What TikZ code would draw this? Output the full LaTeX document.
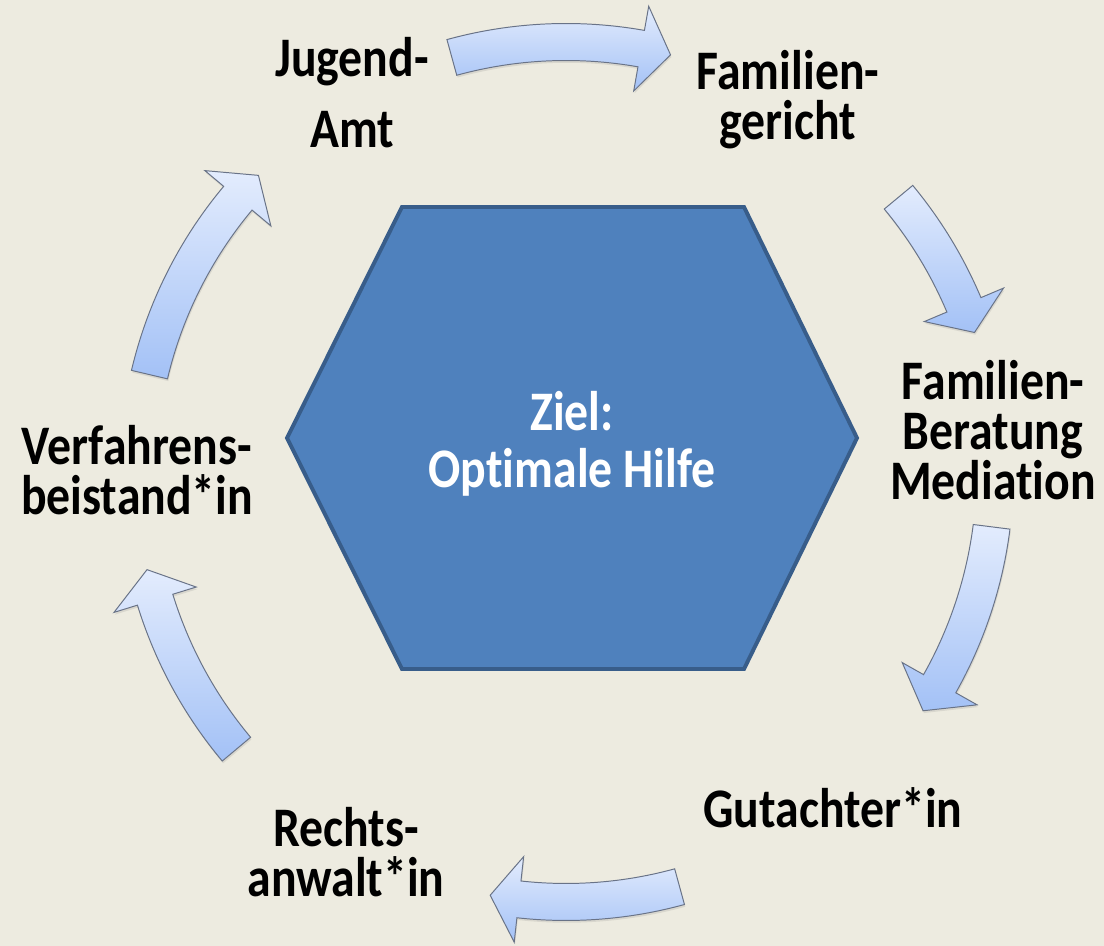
\documentclass[tikz,border=0pt]{standalone}
\usepackage{fontspec}
\setmainfont{Carlito}[FakeStretch=0.855, Ligatures=NoCommon]
\usetikzlibrary{shadows}
\definecolor{bgcol}{RGB}{237,235,224}
\definecolor{hexfill}{RGB}{79,129,189}
\definecolor{hexline}{RGB}{56,93,138}
\definecolor{arrtop}{RGB}{227,236,253}
\definecolor{arrbot}{RGB}{163,193,246}
\definecolor{arrline}{RGB}{105,115,135}
\tikzset{
  cyclearrow/.style={draw=arrline, line width=0.7pt, line join=miter,
    top color=arrtop, bottom color=arrbot,
    drop shadow={opacity=0.18, shadow xshift=0.6pt, shadow yshift=-1.6pt}},
  lbl/.style={font=\fontsize{39.7}{35.6}\selectfont\bfseries, align=center, inner sep=0pt, text=black},
  hexbox/.style={draw=hexline, fill=hexfill, line width=2.8pt, line join=miter}
}
% #1 radius, #2 tail angle, #3 head base angle, #4 tip angle
\newcommand\cycarrow[4]{%
  \pgfmathsetmacro\arOut{#1+18.5}%
  \pgfmathsetmacro\arIn{#1-18.5}%
  \pgfmathsetmacro\arBo{#1+43}%
  \pgfmathsetmacro\arBi{#1-43}%
  \draw[cyclearrow] (#2:\arOut) arc[start angle=#2, end angle=#3, radius=\arOut]
    -- (#3:\arBo) -- (#4:#1) -- (#3:\arBi) -- (#3:\arIn)
    arc[start angle=#3, end angle=#2, radius=\arIn] -- cycle;
}
\begin{document}
\begin{tikzpicture}[x=0.025cm, y=0.025cm]
\fill[bgcol] (0,0) rectangle (1104,946);
\useasboundingbox (0,0) rectangle (1104,946);

% central hexagon
\draw[hexbox] (402,739) -- (744,739) -- (857,508) -- (744,277) -- (402,277) -- (287,508) -- cycle;
\node[lbl, text=white] (ziel) at (572,502) {Ziel:\\[4.9pt]Optimale Hilfe};

% labels
\node[lbl] (jugend) at (352,853) {Jugend-\\[14.9pt]Amt};
\node[lbl] (famger) at (788,846) {Familien-\\gericht};
\node[lbl] (famber) at (993,516) {Familien-\\Beratung\\Mediation};
\node[lbl] (gutacht) at (833,138) {Gutachter*in};
\node[lbl] (rechts) at (346,94) {Rechts-\\anwalt*in};
\node[lbl] (verf) at (137,476) {Verfahrens-\\beistand*in};

% cycle arrows
\begin{scope}[shift={(566,473)}]
\cycarrow{431}{105.36}{79.95}{75.96}
\cycarrow{432}{39.67}{22.91}{18.98}
\cycarrow{429}{-7.21}{-29.42}{-33.66}
\cycarrow{429}{-74.65}{-96.30}{-100.18}
\cycarrow{430}{-140.04}{-162.86}{-167.01}
\cycarrow{428}{166.71}{140.06}{135.94}
\end{scope}
\end{tikzpicture}
\end{document}
